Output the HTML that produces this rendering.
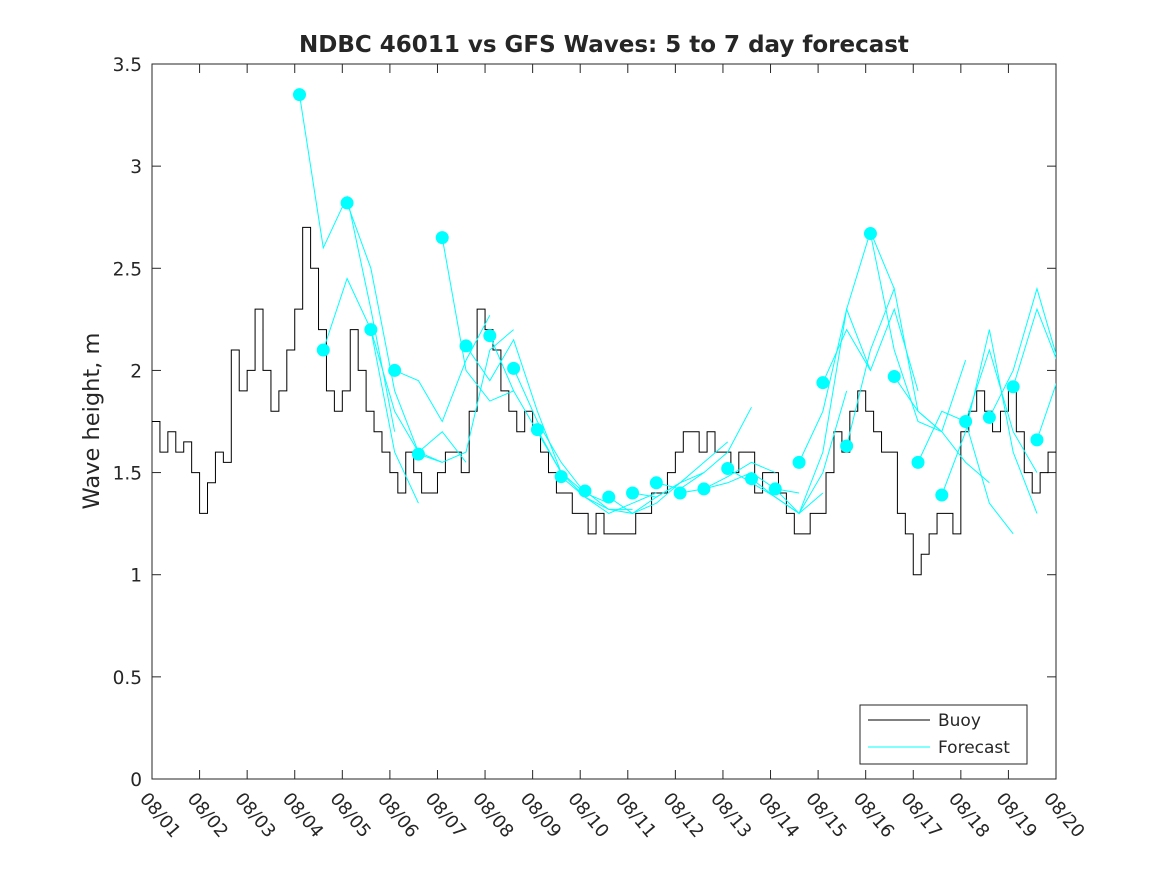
<!DOCTYPE html>
<html><head><meta charset="utf-8"><style>
body{margin:0;background:#fff;font-family:"DejaVu Sans",sans-serif}
svg text{font-family:"DejaVu Sans","Liberation Sans",sans-serif;fill:#262626}
</style></head><body>
<svg id="chart" width="1167" height="875" xmlns="http://www.w3.org/2000/svg">
<defs><clipPath id="pc"><rect x="152" y="64" width="904" height="715"/></clipPath></defs>
<rect width="1167" height="875" fill="#fff"/>
<g id="plot"></g>
</svg>
<script>
const dateLabels=["08/01","08/02","08/03","08/04","08/05","08/06","08/07","08/08","08/09","08/10","08/11","08/12","08/13","08/14","08/15","08/16","08/17","08/18","08/19","08/20"];
const yTicks=[0,0.5,1,1.5,2,2.5,3,3.5];
// buoy, every 4 hours from 08/01 00z
const buoy=[1.75,1.6,1.7,1.6,1.65,1.5, 1.3,1.45,1.6,1.55,2.1,1.9, 2.0,2.3,2.0,1.8,1.9,2.1, 2.3,2.7,2.5,2.2,1.9,1.8,
 1.9,2.2,2.0,1.8,1.7,1.6, 1.5,1.4,1.6,1.5,1.4,1.4, 1.5,1.6,1.6,1.5,1.8,2.3, 2.2,2.1,1.9,1.8,1.7,1.8,
 1.7,1.6,1.5,1.4,1.4,1.3, 1.3,1.2,1.3,1.2,1.2,1.2, 1.2,1.3,1.3,1.4,1.4,1.5, 1.6,1.7,1.7,1.6,1.7,1.6,
 1.6,1.5,1.6,1.6,1.4,1.5, 1.5,1.4,1.3,1.2,1.2,1.3, 1.3,1.5,1.7,1.6,1.8,1.9, 1.8,1.7,1.6,1.6,1.3,1.2,
 1.0,1.1,1.2,1.3,1.3,1.2, 1.7,1.8,1.9,1.8,1.7,1.8, 1.9,1.7,1.5,1.4,1.5,1.6];
const fcStart=3.1;
const fcValues=[
[3.35,2.6,2.85,2.3,1.7],[2.1,2.45,2.2,1.6,1.35],[2.82,2.5,1.9,1.6,1.55],[2.2,1.8,1.6,1.7,1.55],
[2.0,1.95,1.75,2.05,2.27],[1.59,1.55,1.6,2.1,2.2],[2.65,2.0,1.85,1.9],[2.12,1.95,2.15,1.8,1.5],
[2.17,1.9,1.7,1.5,1.4],[2.01,1.75,1.55,1.4,1.35],[1.71,1.5,1.38,1.32,1.32],[1.48,1.38,1.3,1.35,1.4],
[1.41,1.32,1.3,1.38,1.45],[1.38,1.3,1.35,1.45,1.5],[1.40,1.38,1.45,1.55,1.65],[1.45,1.42,1.5,1.6,1.82],
[1.40,1.42,1.48,1.55,1.5],[1.42,1.45,1.5,1.42,1.4],[1.52,1.45,1.38,1.3,1.4],[1.47,1.38,1.3,1.5,1.9],
[1.42,1.3,1.6,2.3,2.0],[1.55,1.8,2.3,2.68,2.4],[1.94,2.2,2.0,2.3,1.9],[1.63,2.1,2.4,1.8,1.7],
[2.67,2.1,1.75,1.7,2.05],[1.97,1.8,1.7,1.55,1.45],[1.55,1.8,1.75,1.35,1.2],[1.39,1.7,2.2,1.6,1.3],
[1.75,2.1,1.7,1.5],[1.77,2.0,2.4,2.0],[1.92,2.3,2.0,1.9],[1.66,2.0,2.2]];
const X0=152,X1=1056,Y0=779,Y1=64;
const xs=d=>X0+(X1-X0)*d/19;
const ys=v=>Y0-(Y0-Y1)*v/3.5;
const NS="http://www.w3.org/2000/svg";
const g=document.getElementById('plot');
function mk(t,a,p){const e=document.createElementNS(NS,t);for(const k in a)e.setAttribute(k,a[k]);(p||g).appendChild(e);return e;}
let e=mk('rect',{x:X0,y:Y1,width:X1-X0,height:Y0-Y1,fill:'#fff',stroke:'#262626','stroke-width':1});


yTicks.forEach(v=>{
 mk('line',{x1:X0,x2:X0+9,y1:ys(v),y2:ys(v),stroke:'#262626'});
 mk('line',{x1:X1,x2:X1-9,y1:ys(v),y2:ys(v),stroke:'#262626'});
 const t=mk('text',{x:X0-10,y:ys(v)+7,'text-anchor':'end','font-size':18.5});t.textContent=v;
 
 
});
dateLabels.forEach((s,i)=>{
 const x=xs(i);
 mk('line',{x1:x,x2:x,y1:Y0,y2:Y0-9,stroke:'#262626'});
 mk('line',{x1:x,x2:x,y1:Y1,y2:Y1+9,stroke:'#262626'});
 const t=mk('text',{x:x-13,y:Y0+20,'font-size':18,transform:`rotate(50 ${x-13} ${Y0+20})`});t.textContent=s;
 
 
});
const data=mk('g',{'clip-path':'url(#pc)'});


let d='';buoy.forEach((v,i)=>{const x0=xs(i/6),x1=xs((i+1)/6);d+=(i?'L':'M')+x0+' '+ys(v)+'L'+x1+' '+ys(v);});
e=mk('path',{d:d,fill:'none',stroke:'#000','stroke-width':1},data);


fcValues.forEach((arr,i)=>{
 const s=fcStart+i*0.5;
 const p=arr.map((v,j)=>(j?'L':'M')+xs(s+j*0.5)+' '+ys(v)).join('');
 let l=mk('path',{d:p,fill:'none',stroke:'#00ffff','stroke-width':1},data);
 
 
});
fcValues.forEach((arr,i)=>{
 let c=mk('circle',{cx:xs(fcStart+i*0.5),cy:ys(arr[0]),r:6.5,fill:'#00ffff'});
 
 
});
e=mk('text',{x:604,y:52,'text-anchor':'middle','font-size':23,'font-weight':'bold',fill:'#000'});e.textContent='NDBC 46011 vs GFS Waves: 5 to 7 day forecast';


e=mk('text',{x:99,y:421,'text-anchor':'middle','font-size':22.5,transform:'rotate(-90 99 421)'});e.textContent='Wave height, m';


const lg=mk('g',{});


mk('rect',{x:860,y:705,width:167,height:59,fill:'#fff',stroke:'#262626'},lg);
mk('line',{x1:868,x2:930,y1:720,y2:720,stroke:'#000'},lg);
mk('line',{x1:868,x2:930,y1:747,y2:747,stroke:'#00ffff'},lg);
let t1=mk('text',{x:938,y:726,'font-size':17},lg);t1.textContent='Buoy';


let t2=mk('text',{x:938,y:753,'font-size':17},lg);t2.textContent='Forecast';


</script>
</body></html>
